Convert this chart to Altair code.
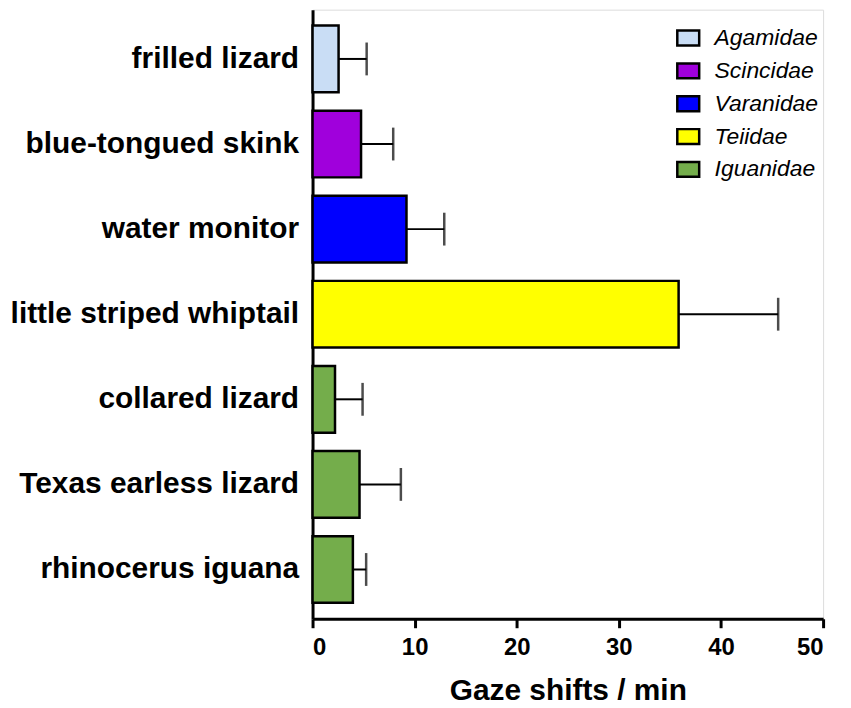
import altair as alt
import pandas as pd

species = ["frilled lizard", "blue-tongued skink", "water monitor",
           "little striped whiptail", "collared lizard",
           "Texas earless lizard", "rhinocerus iguana"]
family = ["Agamidae", "Scincidae", "Varanidae", "Teiidae",
          "Iguanidae", "Iguanidae", "Iguanidae"]
mean_rate = [2.55, 4.75, 9.2, 35.85, 2.2, 4.6, 3.95]
sem_rate = [2.75, 3.15, 3.7, 9.75, 2.7, 4.05, 1.3]

family_order = ["Agamidae", "Scincidae", "Varanidae", "Teiidae", "Iguanidae"]
family_colors = ["#c9ddf5", "#a000dc", "#0000ff", "#ffff00", "#74ad4b"]
x_ticks = [0, 10, 20, 30, 40, 50]

df = pd.DataFrame({"species": species, "family": family,
                   "mean": mean_rate, "sem": sem_rate})
df["upper"] = df["mean"] + df["sem"]

FONT = "Liberation Sans"

y_enc = alt.Y("species:N", sort=species, title=None,
              scale=alt.Scale(paddingInner=0.216, paddingOuter=0.187),
              axis=alt.Axis(labelFont=FONT, labelFontWeight="bold", labelFontSize=30,
                            labelColor="black", labelPadding=14, ticks=False,
                            domainColor="black", domainWidth=3, labelLimit=500))
x_scale = alt.Scale(domain=[0, 50], nice=False)
x_axis = alt.Axis(values=x_ticks, grid=False, labelFont=FONT, labelFontWeight="bold",
                  labelFontSize=24, labelColor="black", labelPadding=8,
                  tickSize=9, tickWidth=3, tickColor="black",
                  domainColor="black", domainWidth=3,
                  title="Gaze shifts / min", titleFont=FONT, titleFontWeight="bold",
                  titleFontSize=30, titleColor="black", titlePadding=16)

base = alt.Chart(df)

bars = base.mark_bar(size=67, stroke="black", strokeWidth=2.5).encode(
    y=y_enc,
    x=alt.X("mean:Q", scale=x_scale, axis=x_axis),
    color=alt.Color("family:N",
                    scale=alt.Scale(domain=family_order, range=family_colors),
                    legend=alt.Legend(title=None, orient="none", legendX=365, legendY=16,
                                      labelFont=FONT, labelFontStyle="italic",
                                      labelFontSize=23, labelColor="black",
                                      labelOffset=14, rowPadding=8, padding=0,
                                      symbolType="M-1,-0.68H1V0.68H-1Z",
                                      symbolSize=484, symbolStrokeColor="black",
                                      symbolStrokeWidth=2.5, symbolOpacity=1)),
)

err = base.mark_rule(color="black", strokeWidth=2).encode(
    y=alt.Y("species:N", sort=species),
    x="mean:Q",
    x2="upper:Q",
)

caps = base.mark_tick(color="black", size=33, thickness=2.5).encode(
    y=alt.Y("species:N", sort=species),
    x="upper:Q",
)

chart = alt.layer(err, bars, caps).properties(
    width=513, height=612,
    autosize=alt.AutoSizeParams(type="none"),
    padding={"left": 306, "top": 0, "right": 20, "bottom": 92},
).configure_view(strokeWidth=0, stroke="transparent").configure(background="white")

chart.save("out.html", embed_options={"renderer": "svg", "actions": False})
